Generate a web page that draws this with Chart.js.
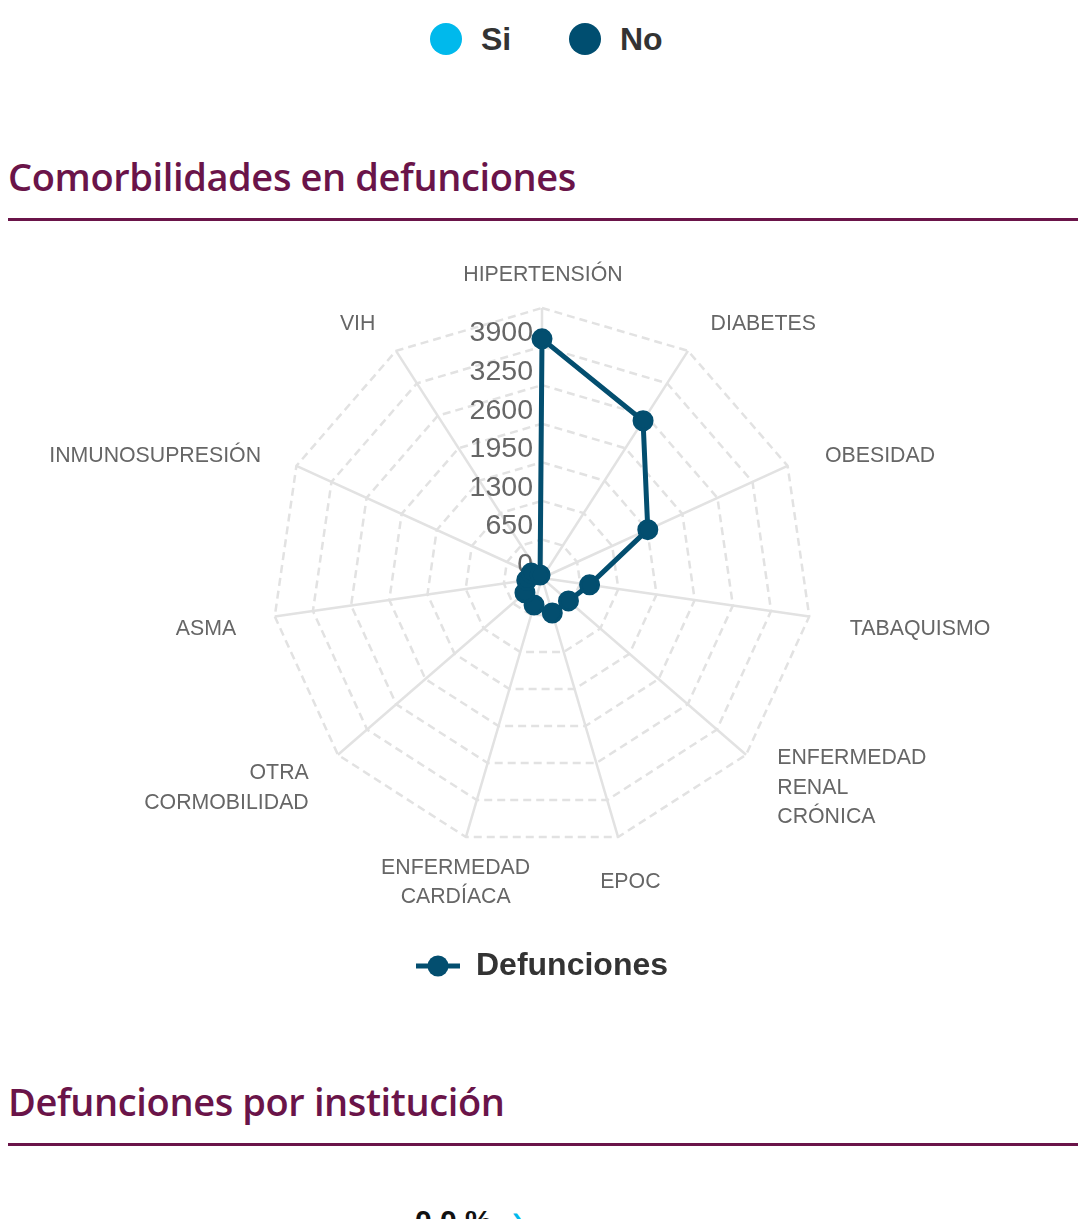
<!DOCTYPE html>
<html lang="es">
<head>
<meta charset="UTF-8">
<title>Comorbilidades en defunciones</title>
<script src="https://cdn.jsdelivr.net/npm/chart.js"></script>
<style>
  body { margin:0; width:1091px; height:1219px; overflow:hidden; background:#fff; position:relative;
         font-family: Arial, "Liberation Sans", sans-serif; }
  .abs { position:absolute; white-space:nowrap; }
  .dot { width:32px; height:32px; border-radius:50%; top:23px; }
  .lg { top:19px; font-size:32px; font-weight:bold; color:#333; line-height:40px; }
  .ttl { left:8px; font-family:"Open Sans", sans-serif; font-size:38px; font-weight:600; color:#6a1449; line-height:52px; letter-spacing:-0.38px; }
  .rule { left:8px; width:1070px; height:3px; background:#6a1449; }
  #wrap { position:absolute; left:0; top:230px; width:1091px; height:790px; }
</style>
</head>
<body>

<div class="abs dot" style="left:430px; background:#00b9ec;"></div>
<div class="abs lg" style="left:481px;">Si</div>
<div class="abs dot" style="left:569px; background:#004e70;"></div>
<div class="abs lg" style="left:620px;">No</div>

<div class="abs ttl" style="top:150px;">Comorbilidades en defunciones</div>
<div class="abs rule" style="top:218px;"></div>

<div id="wrap"><canvas id="radar"></canvas></div>

<div class="abs ttl" style="top:1075px;">Defunciones por institución</div>
<div class="abs rule" style="top:1143px;"></div>

<div class="abs" style="left:415px; top:1204px; font-size:30px; font-weight:bold; color:#111;">0.0 %</div>
<div class="abs" style="left:512px; top:1200px; font-size:30px; font-weight:bold; color:#00b9ec;">›</div>

<script>
    // datos
    var categorias = ['HIPERTENSIÓN', 'DIABETES', 'OBESIDAD', 'TABAQUISMO',
        ['ENFERMEDAD', 'RENAL', 'CRÓNICA'], 'EPOC', ['ENFERMEDAD', 'CARDÍACA'],
        ['OTRA', 'CORMOBILIDAD'], 'ASMA', 'INMUNOSUPRESIÓN', 'VIH'];
    var defunciones = [4030, 3150, 1960, 810, 590, 615, 475, 380, 260, 200, 60];
    var ticksR = [0, 650, 1300, 1950, 2600, 3250, 3900];
    var maxR = 4550;

    var azul = '#034e6f';
    Chart.defaults.font.family = 'Arial, "Liberation Sans", Helvetica, sans-serif';

    // marca de la leyenda: linea con punto
    var marca = document.createElement('canvas');
    marca.width = 44;
    marca.height = 22;
    var m = marca.getContext('2d');
    m.fillStyle = azul;
    m.fillRect(0, 8.5, 44, 5);
    m.beginPath();
    m.arc(22, 11, 10.5, 0, Math.PI * 2);
    m.fill();

    // etiquetas de ticks y de ejes dibujadas con la escala radial
    var etiquetas = {
        id: 'etiquetas',
        beforeDatasetsDraw: function (chart) {
            var r = chart.scales.r;
            var ctx = chart.ctx;
            ctx.save();
            ctx.fillStyle = '#666';
            ctx.textBaseline = 'middle';

            ctx.font = '28.5px Arial, "Liberation Sans", sans-serif';
            ctx.textAlign = 'right';
            ticksR.forEach(function (v) {
                var d = r.getDistanceFromCenterForValue(v);
                ctx.fillText(String(v), r.xCenter - 9, r.yCenter - d - 13);
            });

            ctx.font = '21.3px Arial, "Liberation Sans", sans-serif';
            var n = categorias.length;
            categorias.forEach(function (lab, i) {
                var p = r.getPointPosition(i, r.drawingArea + 40);
                var deg = i * 360 / n;
                var align = 'left';
                if (deg < 20 || deg > 340 || Math.abs(deg - 180) < 20) align = 'center';
                else if (deg > 180) align = 'right';
                var lines = [].concat(lab);
                var lh = 29.5;
                var y0 = p.y + 7 - (lines.length - 1) * lh / 2;
                ctx.textAlign = align;
                lines.forEach(function (t, k) {
                    ctx.fillText(t, p.x + 1, y0 + k * lh);
                });
            });
            ctx.restore();
        }
    };

    var ctx = document.getElementById('radar').getContext('2d');
    var radar = new Chart(ctx, {
        type: 'radar',
        data: {
            labels: categorias,
            datasets: [{
                label: 'Defunciones',
                data: defunciones,
                borderColor: azul,
                backgroundColor: azul,
                borderWidth: 5,
                fill: false,
                pointRadius: 9,
                pointBorderWidth: 3,
                pointBackgroundColor: azul,
                pointBorderColor: azul
            }]
        },
        options: {
            responsive: true,
            maintainAspectRatio: false,
            animation: false,
            layout: { padding: { left: 272, right: 279, top: 78, bottom: 28 } },
            plugins: {
                legend: {
                    position: 'bottom',
                    labels: {
                        usePointStyle: true,
                        pointStyle: marca,
                        pointStyleWidth: 44,
                        padding: 102,
                        color: '#333',
                        font: { size: 32, weight: 'bold' }
                    }
                },
                tooltip: { enabled: false }
            },
            scales: {
                r: {
                    min: 0,
                    max: maxR,
                    ticks: { stepSize: 650, display: false },
                    pointLabels: { display: false },
                    grid: { color: '#e2e2e2', lineWidth: 2.5 },
                    border: { dash: [8, 5] },
                    angleLines: { color: '#e2e2e2', lineWidth: 2.5 }
                }
            }
        },
        plugins: [etiquetas]
    });
</script>

</body>
</html>
